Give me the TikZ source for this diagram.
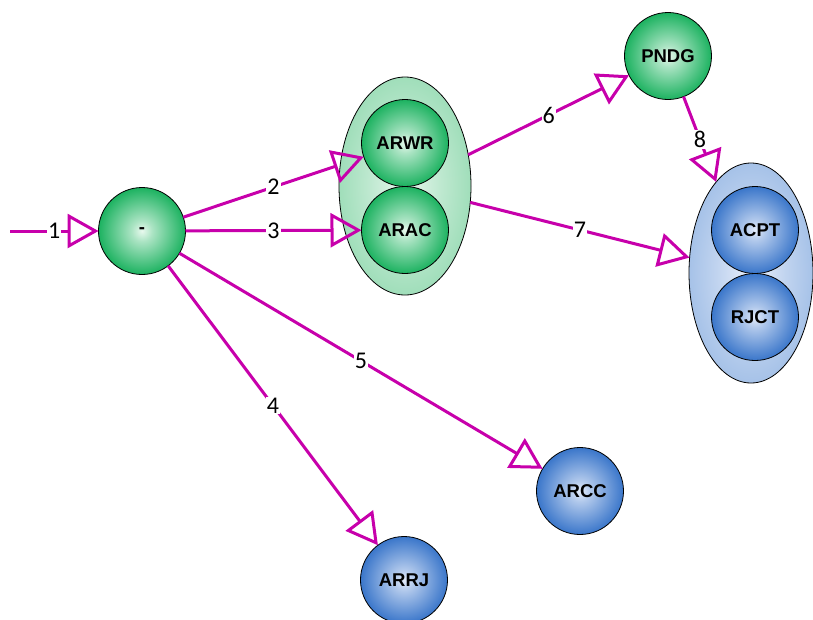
\documentclass[tikz,border=0pt]{standalone}
\usepackage{fontspec}
\setmainfont{Liberation Sans}
\newfontfamily\labfont{Carlito}
\usetikzlibrary{arrows.meta,shapes.geometric}
\definecolor{edgecol}{RGB}{199,0,171}
\definecolor{gE}{RGB}{28,178,96}
\definecolor{gC}{RGB}{232,249,238}
\definecolor{bE}{RGB}{58,118,202}
\definecolor{bC}{RGB}{228,236,250}
\definecolor{geE}{RGB}{160,222,186}
\definecolor{geC}{RGB}{232,247,238}
\definecolor{beE}{RGB}{166,194,232}
\definecolor{beC}{RGB}{232,238,250}
\pgfdeclareradialshading{greenball}{\pgfpoint{0bp}{0bp}}{color(0bp)=(gC); color(6bp)=(gC!70!gE); color(25bp)=(gE); color(50bp)=(gE)}
\pgfdeclareradialshading{blueball}{\pgfpoint{0bp}{0bp}}{color(0bp)=(bC); color(6bp)=(bC!70!bE); color(25bp)=(bE); color(50bp)=(bE)}
\pgfdeclareradialshading{greengrp}{\pgfpoint{0bp}{0bp}}{color(0bp)=(geC); color(14bp)=(geE!60!geC); color(25bp)=(geE); color(50bp)=(geE)}
\pgfdeclareradialshading{bluegrp}{\pgfpoint{0bp}{0bp}}{color(0bp)=(beC); color(14bp)=(beE!60!beC); color(25bp)=(beE); color(50bp)=(beE)}
\begin{document}
\begin{tikzpicture}[x=1pt,y=-1pt,
  ball/.style={circle, draw=black, line width=0.8pt, minimum size=87pt, inner sep=0pt, outer sep=0pt, font=\bfseries\fontsize{18.5}{18.5}\selectfont, shade},
  gball/.style={ball, shading=greenball},
  bball/.style={ball, shading=blueball},
  grp/.style={ellipse, draw=black, line width=0.8pt, inner sep=0pt, outer sep=0pt, shade},
  flow/.style={draw=edgecol, line width=3pt, -{Triangle[open, length=31pt, width=34pt]}},
  lab/.style={fill=white, inner sep=1pt, font=\labfont\fontsize{24}{24}\selectfont}]
\useasboundingbox (0,0) rectangle (813,619);
% groups
\node[grp, shading=greengrp, minimum width=132pt, minimum height=218pt] (g1) at (405,186) {};
\node[grp, shading=bluegrp, minimum width=124pt, minimum height=220pt] (g2) at (751,273) {};
% states
\node[gball] (dash) at (142,231) {-};
\node[gball] (arwr) at (405,143) {ARWR};
\node[gball] (arac) at (405,230) {ARAC};
\node[gball] (pndg) at (668,56) {PNDG};
\node[bball] (acpt) at (755,230) {ACPT};
\node[bball] (rjct) at (755,317) {RJCT};
\node[bball] (arcc) at (580,491) {ARCC};
\node[bball] (arrj) at (404,580) {ARRJ};
\coordinate (start) at (10,231);
% transitions
\draw[flow] (start) -- node[lab]{1} (dash);
\draw[flow] (dash) -- node[lab]{2} (arwr);
\draw[flow] (dash) -- node[lab]{3} (arac);
\draw[flow] (dash) -- node[lab]{4} (arrj);
\draw[flow] (dash) -- node[lab]{5} (arcc);
\draw[flow] (g1) -- node[lab]{6} (pndg);
\draw[flow] (g1) -- node[lab]{7} (g2);
\draw[flow] (pndg) -- node[lab]{8} (g2);
\end{tikzpicture}
\end{document}
